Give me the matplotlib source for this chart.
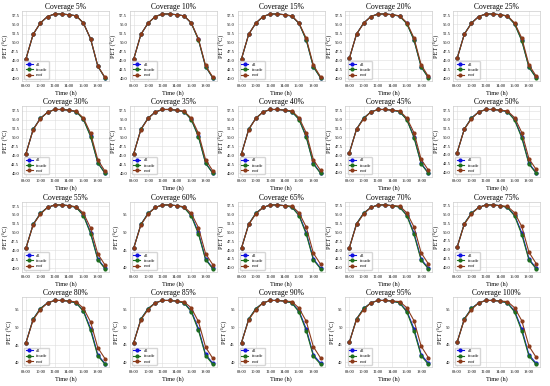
import matplotlib
matplotlib.use("Agg")
import matplotlib.pyplot as plt
from matplotlib.ticker import MultipleLocator, FormatStrFormatter

plt.rcParams['font.family'] = ['Liberation Serif', 'DejaVu Serif']

hours = [8, 9, 10, 11, 12, 13, 14, 15, 16, 17, 18, 19]
tick_hours = [8, 10, 12, 14, 16, 18]
tick_labels = ['08:00', '10:00', '12:00', '14:00', '16:00', '18:00']
coverages = [5, 10, 15, 20, 25, 30, 35, 40, 45, 50,
             55, 60, 65, 70, 75, 80, 85, 90, 95, 100]

pet_all = [
    [45.5, 52.3, 55.4, 57.2, 57.9, 57.9, 57.7, 57.4, 55.4, 51.0, 43.5, 40.3],
    [45.5, 52.3, 55.4, 57.2, 57.9, 57.9, 57.7, 57.4, 55.4, 50.9, 43.4, 40.3],
    [45.5, 52.3, 55.4, 57.2, 57.9, 57.9, 57.7, 57.3, 55.3, 50.8, 43.3, 40.2],
    [45.5, 52.3, 55.4, 57.2, 57.9, 57.9, 57.7, 57.3, 55.3, 50.7, 43.2, 40.2],
    [45.5, 52.3, 55.4, 57.2, 57.9, 57.9, 57.7, 57.3, 55.2, 50.6, 43.1, 40.2],
    [45.5, 52.3, 55.4, 57.1, 57.9, 57.9, 57.7, 57.3, 55.2, 50.5, 43.0, 40.1],
    [45.5, 52.3, 55.4, 57.1, 57.8, 57.8, 57.6, 57.2, 55.1, 50.4, 42.9, 40.1],
    [45.5, 52.3, 55.4, 57.1, 57.8, 57.8, 57.6, 57.2, 55.1, 50.3, 42.8, 40.1],
    [45.6, 52.3, 55.4, 57.1, 57.8, 57.8, 57.6, 57.2, 55.0, 50.2, 42.7, 40.0],
    [45.6, 52.3, 55.4, 57.1, 57.8, 57.8, 57.6, 57.2, 55.0, 50.1, 42.6, 40.0],
    [45.6, 52.3, 55.4, 57.1, 57.8, 57.8, 57.6, 57.1, 55.0, 50.0, 42.6, 40.0],
    [45.6, 52.3, 55.4, 57.1, 57.8, 57.8, 57.6, 57.1, 54.9, 50.0, 42.5, 39.9],
    [45.6, 52.3, 55.4, 57.0, 57.7, 57.7, 57.5, 57.1, 54.9, 49.9, 42.5, 39.9],
    [45.6, 52.4, 55.4, 57.0, 57.7, 57.7, 57.5, 57.1, 54.9, 49.8, 42.4, 39.9],
    [45.7, 52.4, 55.4, 57.0, 57.7, 57.7, 57.5, 57.0, 54.8, 49.8, 42.4, 39.8],
    [45.7, 52.4, 55.4, 57.0, 57.7, 57.7, 57.5, 57.0, 54.8, 49.7, 42.3, 39.8],
    [45.7, 52.4, 55.4, 57.0, 57.7, 57.7, 57.5, 57.0, 54.8, 49.7, 42.3, 39.8],
    [45.7, 52.4, 55.4, 57.0, 57.7, 57.7, 57.5, 57.0, 54.7, 49.6, 42.2, 39.8],
    [45.7, 52.4, 55.4, 57.0, 57.7, 57.7, 57.5, 57.0, 54.7, 49.6, 42.2, 39.7],
    [45.7, 52.4, 55.4, 57.0, 57.7, 57.7, 57.5, 57.0, 54.7, 49.5, 42.1, 39.7],
]

pet_facade = [
    [45.5, 52.3, 55.4, 57.2, 57.9, 57.9, 57.7, 57.4, 55.4, 51.0, 43.5, 40.3],
    [45.5, 52.3, 55.4, 57.2, 57.9, 57.9, 57.7, 57.4, 55.4, 50.8, 43.4, 40.3],
    [45.5, 52.3, 55.4, 57.2, 57.9, 57.9, 57.7, 57.3, 55.3, 50.7, 43.2, 40.2],
    [45.5, 52.3, 55.4, 57.2, 57.9, 57.9, 57.7, 57.3, 55.2, 50.6, 43.1, 40.1],
    [45.5, 52.3, 55.4, 57.2, 57.9, 57.9, 57.7, 57.3, 55.1, 50.4, 43.0, 40.1],
    [45.5, 52.3, 55.4, 57.1, 57.9, 57.9, 57.7, 57.3, 55.1, 50.3, 42.9, 40.0],
    [45.5, 52.3, 55.4, 57.1, 57.8, 57.8, 57.6, 57.2, 55.0, 50.2, 42.8, 40.0],
    [45.5, 52.3, 55.4, 57.1, 57.8, 57.8, 57.6, 57.2, 55.0, 50.1, 42.6, 40.0],
    [45.6, 52.3, 55.4, 57.1, 57.8, 57.8, 57.6, 57.2, 54.9, 49.9, 42.5, 39.9],
    [45.6, 52.3, 55.4, 57.1, 57.8, 57.8, 57.6, 57.2, 54.8, 49.8, 42.4, 39.8],
    [45.6, 52.3, 55.4, 57.1, 57.8, 57.8, 57.6, 57.1, 54.8, 49.7, 42.4, 39.8],
    [45.6, 52.3, 55.4, 57.1, 57.8, 57.8, 57.6, 57.1, 54.7, 49.6, 42.3, 39.7],
    [45.6, 52.3, 55.4, 57.0, 57.7, 57.7, 57.5, 57.1, 54.7, 49.5, 42.2, 39.7],
    [45.6, 52.4, 55.4, 57.0, 57.7, 57.7, 57.5, 57.1, 54.7, 49.4, 42.1, 39.7],
    [45.7, 52.4, 55.4, 57.0, 57.7, 57.7, 57.5, 57.0, 54.6, 49.3, 42.1, 39.6],
    [45.7, 52.4, 55.4, 57.0, 57.7, 57.7, 57.5, 57.0, 54.6, 49.2, 42.0, 39.6],
    [45.7, 52.4, 55.4, 57.0, 57.7, 57.7, 57.5, 57.0, 54.5, 49.2, 42.0, 39.5],
    [45.7, 52.4, 55.4, 57.0, 57.7, 57.7, 57.5, 57.0, 54.4, 49.1, 41.8, 39.5],
    [45.7, 52.4, 55.4, 57.0, 57.7, 57.7, 57.5, 57.0, 54.4, 49.0, 41.8, 39.4],
    [45.7, 52.4, 55.4, 57.0, 57.7, 57.7, 57.5, 57.0, 54.4, 48.9, 41.7, 39.4],
]

pet_roof = [
    [45.5, 52.3, 55.4, 57.2, 57.9, 57.9, 57.7, 57.4, 55.4, 51.1, 43.6, 40.4],
    [45.5, 52.3, 55.4, 57.2, 57.9, 57.9, 57.7, 57.4, 55.5, 51.1, 43.7, 40.5],
    [45.5, 52.3, 55.4, 57.2, 57.9, 57.9, 57.7, 57.4, 55.4, 51.2, 43.7, 40.5],
    [45.5, 52.3, 55.3, 57.2, 57.9, 57.9, 57.7, 57.4, 55.5, 51.2, 43.7, 40.5],
    [45.5, 52.2, 55.3, 57.2, 57.9, 57.9, 57.7, 57.4, 55.4, 51.2, 43.7, 40.6],
    [45.5, 52.2, 55.3, 57.1, 57.9, 57.9, 57.7, 57.4, 55.5, 51.2, 43.8, 40.6],
    [45.5, 52.2, 55.3, 57.1, 57.8, 57.8, 57.6, 57.3, 55.4, 51.2, 43.8, 40.7],
    [45.5, 52.2, 55.3, 57.1, 57.8, 57.8, 57.6, 57.4, 55.5, 51.3, 43.8, 40.8],
    [45.6, 52.2, 55.2, 57.1, 57.8, 57.8, 57.6, 57.4, 55.4, 51.3, 43.8, 40.8],
    [45.6, 52.2, 55.2, 57.1, 57.8, 57.8, 57.6, 57.4, 55.5, 51.3, 43.9, 40.9],
    [45.6, 52.2, 55.2, 57.1, 57.8, 57.8, 57.6, 57.3, 55.5, 51.3, 44.0, 40.9],
    [45.6, 52.2, 55.2, 57.1, 57.8, 57.8, 57.6, 57.3, 55.4, 51.4, 44.0, 40.9],
    [45.6, 52.2, 55.2, 57.0, 57.7, 57.7, 57.5, 57.4, 55.5, 51.5, 44.1, 41.0],
    [45.6, 52.2, 55.2, 57.0, 57.7, 57.7, 57.5, 57.4, 55.5, 51.5, 44.2, 41.1],
    [45.7, 52.2, 55.2, 57.0, 57.7, 57.7, 57.5, 57.3, 55.5, 51.6, 44.3, 41.1],
    [45.7, 52.2, 55.1, 57.0, 57.7, 57.7, 57.5, 57.3, 55.5, 51.6, 44.3, 41.2],
    [45.7, 52.2, 55.1, 57.0, 57.7, 57.7, 57.5, 57.3, 55.6, 51.7, 44.4, 41.2],
    [45.7, 52.2, 55.1, 57.0, 57.7, 57.7, 57.5, 57.4, 55.5, 51.8, 44.5, 41.3],
    [45.7, 52.2, 55.1, 57.0, 57.7, 57.7, 57.5, 57.4, 55.6, 51.9, 44.6, 41.3],
    [45.7, 52.2, 55.1, 57.0, 57.7, 57.7, 57.5, 57.4, 55.6, 51.9, 44.6, 41.4],
]

# y tick step per panel (style)
y_steps = [2.5] * 11 + [5] + [2.5] * 3 + [5] * 5

fig, axes = plt.subplots(4, 5, figsize=(5.5, 3.86), dpi=100)
fig.subplots_adjust(left=0.04, right=0.982, top=0.972, bottom=0.048,
                    wspace=0.24, hspace=0.36)

for i, ax in enumerate(axes.flat):
    ax.plot(hours, pet_all[i], color='#1010e0', marker='o', ms=2, lw=0.8, label='all')
    ax.plot(hours, pet_facade[i], color='#1e6e1e', marker='o', ms=2, lw=0.8, label='facade')
    ax.plot(hours, pet_roof[i], color='#8b3a1a', marker='o', ms=2, lw=0.8, label='roof')
    ax.set_title(f'Coverage {coverages[i]}%', fontsize=5.5, pad=1.5)
    ax.set_xticks(tick_hours)
    ax.set_xticklabels(tick_labels)
    ax.yaxis.set_major_locator(MultipleLocator(y_steps[i]))
    if y_steps[i] == 2.5:
        ax.yaxis.set_major_formatter(FormatStrFormatter('%.1f'))
    ax.tick_params(labelsize=3.2, length=0, pad=2)
    ax.set_xlabel('Time (h)', fontsize=4.5, labelpad=1.5)
    ax.set_ylabel('PET (°C)', fontsize=4.5, labelpad=1.5)
    ax.grid(True, color='#dddddd', lw=0.4)
    ax.set_axisbelow(True)
    for s in ax.spines.values():
        s.set_color('#cccccc')
        s.set_linewidth(0.5)
    ax.legend(loc='lower left', fontsize=3.2, handlelength=1.6, borderpad=0.3,
              labelspacing=0.3, framealpha=0.8, edgecolor='#cccccc')

fig.savefig('out.png', dpi=100)
